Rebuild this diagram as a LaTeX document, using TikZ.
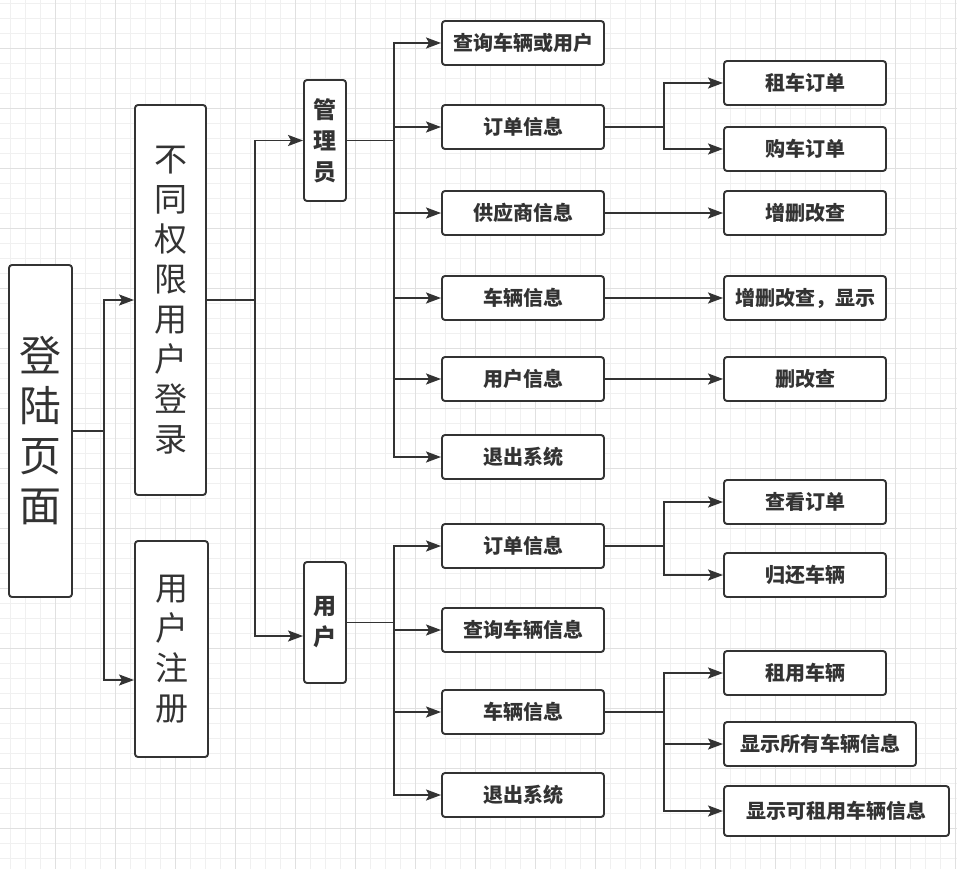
\documentclass[tikz,border=0pt]{standalone}
\usepackage{fontspec}
\newfontfamily\cjk{Noto Sans CJK SC}
\usetikzlibrary{arrows.meta}
\definecolor{ink}{HTML}{333333}
\definecolor{gridminor}{HTML}{F0F0F0}
\definecolor{gridmajor}{HTML}{E0E0E0}
\tikzset{box/.style = {draw=ink, line width=1.9pt, rounded corners=3pt, fill=white, text=ink, inner sep=0pt, align=center}}
\tikzset{big/.style = {box, font=\cjk\fontsize{33}{40}\selectfont}}
\tikzset{role/.style = {box, minimum width=42pt, minimum height=121pt, font=\cjk\bfseries\fontsize{23}{31}\selectfont}}
\tikzset{item/.style = {box, minimum width=162pt, minimum height=44pt, font=\cjk\bfseries\fontsize{20}{24}\selectfont}}
\tikzset{edge/.style = {draw=ink, line width=1.9pt, -{Stealth[length=15pt,width=11pt,inset=3pt]}}}

\begin{document}
\begin{tikzpicture}[x=1pt,y=-1pt]
            \useasboundingbox (0,0) rectangle (957,869);
            % Grid
            \fill[white] (0,0) rectangle (957,869);
            \foreach \x in {10,25,...,957} \draw[gridminor, line width=0.8pt] (\x,0) -- (\x,869);
            \foreach \y in {3,18,...,869} \draw[gridminor, line width=0.8pt] (0,\y) -- (957,\y);
            \foreach \x in {55,115,...,957} \draw[gridmajor, line width=0.8pt] (\x,0) -- (\x,869);
            \foreach \y in {48,108,...,869} \draw[gridmajor, line width=0.8pt] (0,\y) -- (957,\y);

            % Vertices
            \node[big, minimum width=63pt, minimum height=332pt, font=\cjk\fontsize{42}{50}\selectfont] (login) at (40.5,431) {登\\陆\\页\\面};
            \node[big, minimum width=71pt, minimum height=390pt] (perm) at (170.5,300) {不\\同\\权\\限\\用\\户\\登\\录};
            \node[big, minimum width=73pt, minimum height=216pt] (reg) at (171.5,649) {用\\户\\注\\册};

            \node[role] (admin) at (325,140.5) {管\\理\\员};
            \node[role] (user) at (325,622.5) {用\\户};

            % admin items
            \node[item] (query) at (523,43) {查询车辆或用户};
            \node[item] (order) at (523,127) {订单信息};
            \node[item] (supply) at (523,213) {供应商信息};
            \node[item] (car) at (523,298) {车辆信息};
            \node[item] (info) at (523,379) {用户信息};
            \node[item] (quit) at (523,457) {退出系统};

            \node[item] (rent) at (805,83) {租车订单};
            \node[item] (buy) at (805,149) {购车订单};
            \node[item] (crud) at (805,213) {增删改查};
            \node[item] (crudshow) at (805,298) {增删改查，显示};
            \node[item] (rud) at (805,379) {删改查};

            % user items
            \node[item] (uorder) at (523,546) {订单信息};
            \node[item] (uquery) at (523,630) {查询车辆信息};
            \node[item] (ucar) at (523,712) {车辆信息};
            \node[item] (uquit) at (523,795) {退出系统};

            \node[item] (look) at (805,502) {查看订单};
            \node[item] (back) at (805,575) {归还车辆};
            \node[item] (hire) at (805,673) {租用车辆};
            \node[item, minimum width=192pt] (showall) at (820,744) {显示所有车辆信息};
            \node[item, minimum width=225pt, minimum height=50pt] (showfree) at (836.5,811) {显示可租用车辆信息};

            % Buses
            \coordinate (b1) at (104,0);
            \coordinate (b2) at (255,0);
            \coordinate (b3) at (394,0);
            \coordinate (b4) at (664,0);

            % Edges
            % login
            \draw[edge] (login.east) -- (login.east -| b1) |- (perm.west);
            \draw[edge] (login.east) -- (login.east -| b1) |- ([yshift=-31pt]reg.west);

            % perm
            \draw[edge] (perm.east) -- (perm.east -| b2) |- (admin.west);
            \draw[edge] (perm.east) -- (perm.east -| b2) |- ([yshift=-13.5pt]user.west);

            % admin
            \foreach \t in {query,order,supply,car,info,quit}
                \draw[edge] (admin.east) -- (admin.east -| b3) |- (\t.west);
            \draw[edge] (order.east) -- (order.east -| b4) |- (rent.west);
            \draw[edge] (order.east) -- (order.east -| b4) |- (buy.west);
            \draw[edge] (supply) -- (crud);
            \draw[edge] (car) -- (crudshow);
            \draw[edge] (info) -- (rud);

            % user
            \foreach \t in {uorder,uquery,ucar,uquit}
                \draw[edge] (user.east) -- (user.east -| b3) |- (\t.west);
            \draw[edge] (uorder.east) -- (uorder.east -| b4) |- (look.west);
            \draw[edge] (uorder.east) -- (uorder.east -| b4) |- (back.west);
            \foreach \t in {hire,showall,showfree}
                \draw[edge] (ucar.east) -- (ucar.east -| b4) |- (\t.west);
\end{tikzpicture}
\end{document}
